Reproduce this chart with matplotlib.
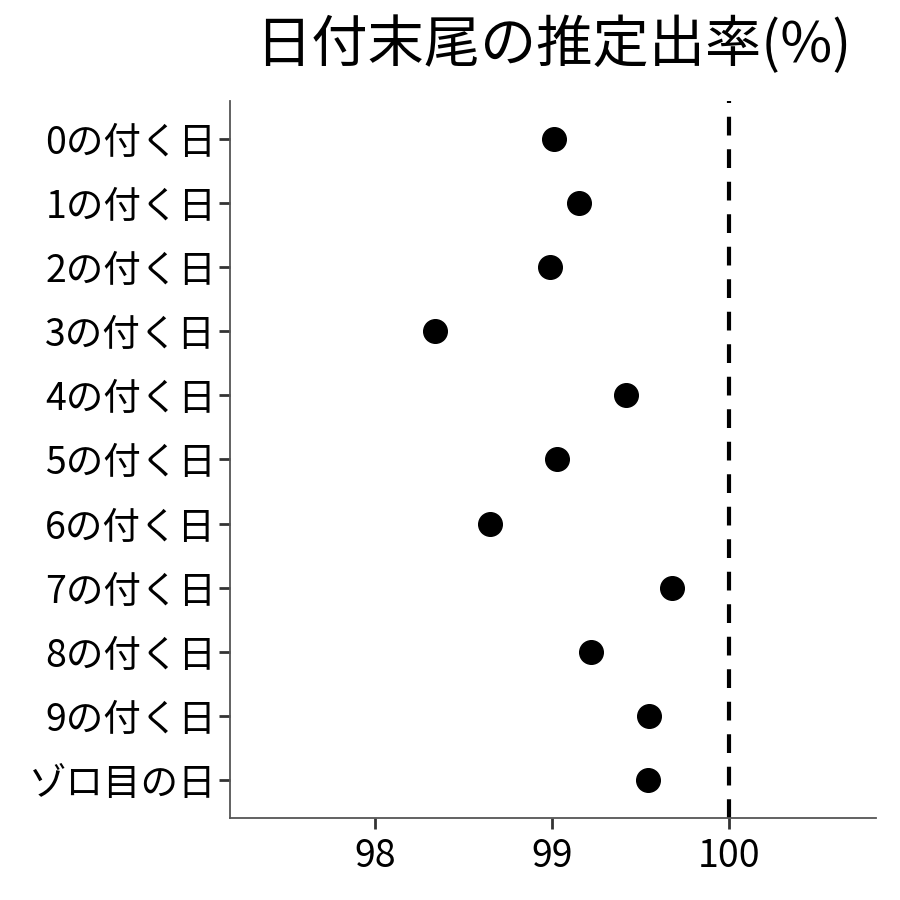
import matplotlib
matplotlib.use('Agg')
import matplotlib.pyplot as plt

plt.rcParams['font.family'] = ['Noto Sans CJK JP', 'DejaVu Sans']

labels = ['0の付く日', '1の付く日', '2の付く日', '3の付く日', '4の付く日',
          '5の付く日', '6の付く日', '7の付く日', '8の付く日', '9の付く日', 'ゾロ目の日']
rates = [99.01, 99.15, 98.99, 98.34, 99.42, 99.03, 98.65, 99.68, 99.22, 99.55, 99.54]
ref_rate = 100
xticks = [98, 99, 100]

fig = plt.figure(figsize=(9, 9), dpi=100)
ax = fig.add_axes([0.2556, 0.0911, 0.7177, 0.7967])

pos = list(range(len(labels)))
ax.plot(rates, pos, 'o', color='black', markersize=17, zorder=3)
ax.axvline(ref_rate, color='black', linestyle=(0, (4.5, 3.3)), linewidth=3)

ax.set_yticks(pos)
ax.set_yticklabels(labels)
ax.set_ylim(len(labels) - 1 + 0.6, -0.6)
ax.set_xticks(xticks)
ax.set_xticklabels([str(x) for x in xticks])
ax.set_xlim(97.18, 100.83)

for s in ['top', 'right']:
    ax.spines[s].set_visible(False)
for s in ['left', 'bottom']:
    ax.spines[s].set_color('#555555')
    ax.spines[s].set_linewidth(1.3)
ax.tick_params(axis='both', labelsize=27, length=8, width=2, color='#333333', labelcolor='black')
ax.tick_params(axis='x', pad=6)
ax.tick_params(axis='y', pad=2)

ax.set_title('日付末尾の推定出率(%)', fontsize=40.5, pad=28)

fig.savefig('out.png', dpi=100)
